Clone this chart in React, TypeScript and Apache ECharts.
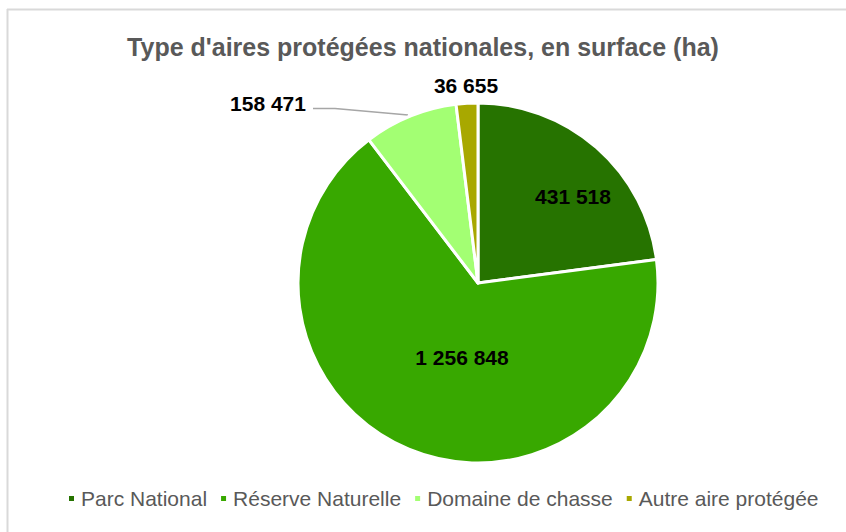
import React, { useEffect, useRef } from "react";
import * as echarts from "echarts";

const categories = ["Parc National", "Réserve Naturelle", "Domaine de chasse", "Autre aire protégée"];
const values = [431518, 1256848, 158471, 36655];
const colors = ["#267300", "#38a800", "#a3ff73", "#a8a800"];
const titleText = "Type d'aires protégées nationales, en surface (ha)";

const labelPos: number[][] = [
  [573, 196],
  [462, 357],
  [268, 103],
  [466, 85],
];

function fmt(v: number): string {
  return String(v).replace(/\B(?=(\d{3})+(?!\d))/g, " ");
}

export default function App() {
  const ref = useRef<HTMLDivElement>(null);
  useEffect(() => {
    if (!ref.current) return;
    const chart = echarts.init(ref.current, null, { renderer: "svg" });
    const font = "Arial, 'Liberation Sans', sans-serif";
    chart.setOption({
      animation: false,
      backgroundColor: "#ffffff",
      title: {
        text: titleText,
        left: "center",
        top: 29,
        textStyle: { fontFamily: font, fontSize: 25, fontWeight: "bold", color: "#595959" },
      },
      legend: {
        left: 62,
        top: 483,
        icon: "rect",
        itemWidth: 7,
        itemHeight: 7,
        itemGap: 12,
        data: categories,
        textStyle: { fontFamily: font, fontSize: 21, color: "#595959", padding: [0, 0, 0, 1] },
      },
      graphic: [
        { type: "line", shape: { x1: 7.5, y1: 9, x2: 7.5, y2: 540 }, style: { stroke: "#d9d9d9", lineWidth: 2 } },
        { type: "line", shape: { x1: 7, y1: 9.5, x2: 860, y2: 9.5 }, style: { stroke: "#d9d9d9", lineWidth: 2 } },
      ],
      series: [
        {
          type: "pie",
          center: [478, 283],
          radius: 180,
          startAngle: 90,
          clockwise: true,
          avoidLabelOverlap: false,
          itemStyle: { borderColor: "#ffffff", borderWidth: 3 },
          label: {
            show: true,
            position: "outside",
            formatter: (p: any) => fmt(p.value),
            fontFamily: font,
            fontSize: 21,
            fontWeight: "bold",
            color: "#000000",
          },
          labelLine: { show: true, lineStyle: { color: "#a6a6a6", width: 1.5 } },
          labelLayout: (params: any) => {
            const i = params.dataIndex;
            const p = labelPos[i];
            const res: any = { x: p[0], y: p[1], align: "center", verticalAlign: "middle" };
            if (i === 2) {
              res.labelLinePoints = [
                [408, 115],
                [335, 108.5],
                [313, 108.5],
              ];
            }
            return res;
          },
          data: categories.map((name, i) => ({
            name,
            value: values[i],
            itemStyle: { color: colors[i] },
            labelLine: { show: i === 2 },
          })),
        },
      ],
    });
    return () => chart.dispose();
  }, []);
  return <div ref={ref} style={{ position: "absolute", left: 0, top: 0, width: 846, height: 532 }} />;
}
